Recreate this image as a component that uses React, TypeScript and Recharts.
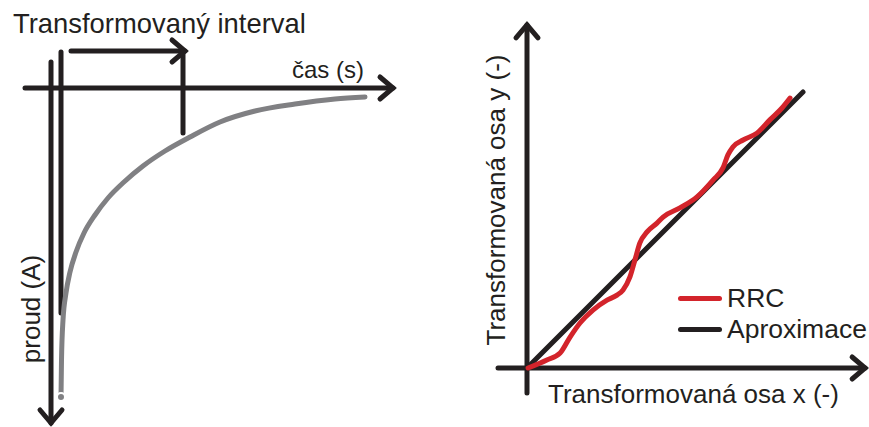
import { LineChart, Line, XAxis, YAxis, ReferenceLine, Legend, Customized } from 'recharts'

// left panel: current decay over time (t = time, i = current, pointing down)
const casT = [0.2, 0.21, 0.24, 0.3, 0.38, 0.5, 0.66, 0.88, 1.14, 1.46, 1.84, 2.28, 2.78, 3.38, 4.08, 4.88, 5.68, 6.28]
const proudI = [6.18, 5.44, 4.64, 4.1, 3.68, 3.28, 2.9, 2.54, 2.2, 1.88, 1.56, 1.26, 0.98, 0.68, 0.46, 0.32, 0.22, 0.18]
const intervalStart = 0.2
const intervalEnd = 2.64

// right panel: transformed data vs linear approximation
const rrcX = [0.04, 0.72, 1.2, 1.56, 1.92, 2.39, 2.9, 3.26, 3.48, 3.73, 3.91, 4.09, 4.35, 4.71, 4.93, 5.54, 6.16, 6.74, 7.1, 7.28, 7.46, 7.83, 8.33, 8.8, 9.24, 9.53]
const rrcY = [0, 0.29, 0.54, 1.12, 1.63, 2.1, 2.46, 2.64, 2.83, 3.3, 3.91, 4.53, 4.93, 5.25, 5.47, 5.8, 6.2, 6.81, 7.25, 7.72, 8.01, 8.26, 8.51, 8.99, 9.42, 9.78]
const aproxX = [0, 10]
const aproxY = [0, 10]

const legendNames = ['RRC', 'Aproximace']
const legendColors = ['#d3242b', '#231f20']

const INK = '#231f20'
const GRAY = '#808083'
const RED = '#d3242b'
const FONT = '"Liberation Sans", Arial, sans-serif'

const proudData = casT.map((t, k) => ({ t, i: proudI[k] }))
const rrcData = rrcX.map((x, k) => ({ x, y: rrcY[k] }))
const aproxData = aproxX.map((x, k) => ({ x, y: aproxY[k] }))

// reference line drawn as a thick stroke, optionally with an arrow head at the end
const stroke = (withHead: boolean) => (p: any) => {
  const { x1, y1, x2, y2 } = p
  const ang = Math.atan2(y2 - y1, x2 - x1)
  const back = 13
  const half = 11
  const bx = x2 - back * Math.cos(ang)
  const by = y2 - back * Math.sin(ang)
  const nx = -Math.sin(ang) * half
  const ny = Math.cos(ang) * half
  return (
    <g>
      <line x1={x1} y1={y1} x2={x2} y2={y2} stroke={INK} strokeWidth={5} strokeLinecap="round" />
      {withHead && (
        <polyline
          points={`${bx + nx},${by + ny} ${x2},${y2} ${bx - nx},${by - ny}`}
          fill="none"
          stroke={INK}
          strokeWidth={5}
          strokeLinecap="round"
        />
      )}
    </g>
  )
}

const LeftLabels = () => (
  <g fontFamily={FONT} fill={INK}>
    <text x={13} y={33} fontSize={27.4}>Transformovaný interval</text>
    <text x={292} y={78} fontSize={24}>čas (s)</text>
    <text x={40} y={309} fontSize={26} textAnchor="middle" transform="rotate(-90 40 309)">proud (A)</text>
  </g>
)

const RightLabels = () => (
  <g fontFamily={FONT} fill={INK}>
    <text x={108} y={403} fontSize={26}>Transformovaná osa x (-)</text>
    <text x={65} y={200} fontSize={26} textAnchor="middle" transform="rotate(-90 65 200)">Transformovaná osa y (-)</text>
  </g>
)

const LegendBox = () => (
  <div style={{ fontFamily: FONT, color: INK }}>
    {legendNames.map((name, k) => (
      <div key={name} style={{ display: 'flex', alignItems: 'center', height: 31 }}>
        <div style={{ width: 44, height: 5, borderRadius: 3, background: legendColors[k], marginRight: 5 }} />
        <span style={{ fontSize: 26.5, lineHeight: '31px' }}>{name}</span>
      </div>
    ))}
  </div>
)

export default function App() {
  return (
    <div style={{ position: 'absolute', left: 0, top: 0, width: 869, height: 427, background: '#fff', display: 'flex' }}>
      <LineChart width={440} height={427} margin={{ top: 0, right: 0, bottom: 0, left: 0 }}>
        <XAxis type="number" dataKey="t" domain={[-1.02, 7.78]} hide allowDataOverflow />
        <YAxis type="number" domain={[-1.76, 6.78]} reversed hide allowDataOverflow />
        <ReferenceLine segment={[{ x: -0.52, y: 0 }, { x: 6.84, y: 0 }]} shape={stroke(true)} />
        <ReferenceLine segment={[{ x: 0, y: -0.52 }, { x: 0, y: 6.7 }]} shape={stroke(true)} />
        <ReferenceLine segment={[{ x: intervalStart, y: -0.72 }, { x: intervalStart, y: 4.5 }]} shape={stroke(false)} />
        <ReferenceLine segment={[{ x: intervalStart + 0.2, y: -0.74 }, { x: intervalEnd + 0.04, y: -0.74 }]} shape={stroke(true)} />
        <ReferenceLine segment={[{ x: intervalEnd, y: -0.74 }, { x: intervalEnd, y: 0.9 }]} shape={stroke(false)} />
        <Line
          data={proudData}
          dataKey="i"
          type="monotone"
          stroke={GRAY}
          strokeWidth={5}
          strokeLinecap="round"
          dot={false}
          isAnimationActive={false}
        />
        <Customized component={LeftLabels} />
      </LineChart>
      <LineChart width={429} height={427} margin={{ top: 0, right: 0, bottom: 0, left: 0 }}>
        <XAxis type="number" dataKey="x" domain={[-3.152, 12.391]} hide allowDataOverflow />
        <YAxis type="number" domain={[-2.138, 13.333]} hide allowDataOverflow />
        <ReferenceLine segment={[{ x: 0, y: -0.91 }, { x: 0, y: 12.43 }]} shape={stroke(true)} />
        <ReferenceLine segment={[{ x: -1.05, y: 0 }, { x: 12.25, y: 0 }]} shape={stroke(true)} />
        <Line
          data={aproxData}
          dataKey="y"
          name="Aproximace"
          type="linear"
          stroke={INK}
          strokeWidth={5}
          strokeLinecap="round"
          dot={false}
          isAnimationActive={false}
        />
        <Line
          data={rrcData}
          dataKey="y"
          name="RRC"
          type="monotone"
          stroke={RED}
          strokeWidth={5}
          strokeLinecap="round"
          dot={false}
          isAnimationActive={false}
        />
        <Legend
          layout="vertical"
          align="center"
          verticalAlign="middle"
          content={LegendBox}
          wrapperStyle={{ left: 238, top: 283, width: 191 }}
        />
        <Customized component={RightLabels} />
      </LineChart>
    </div>
  )
}
